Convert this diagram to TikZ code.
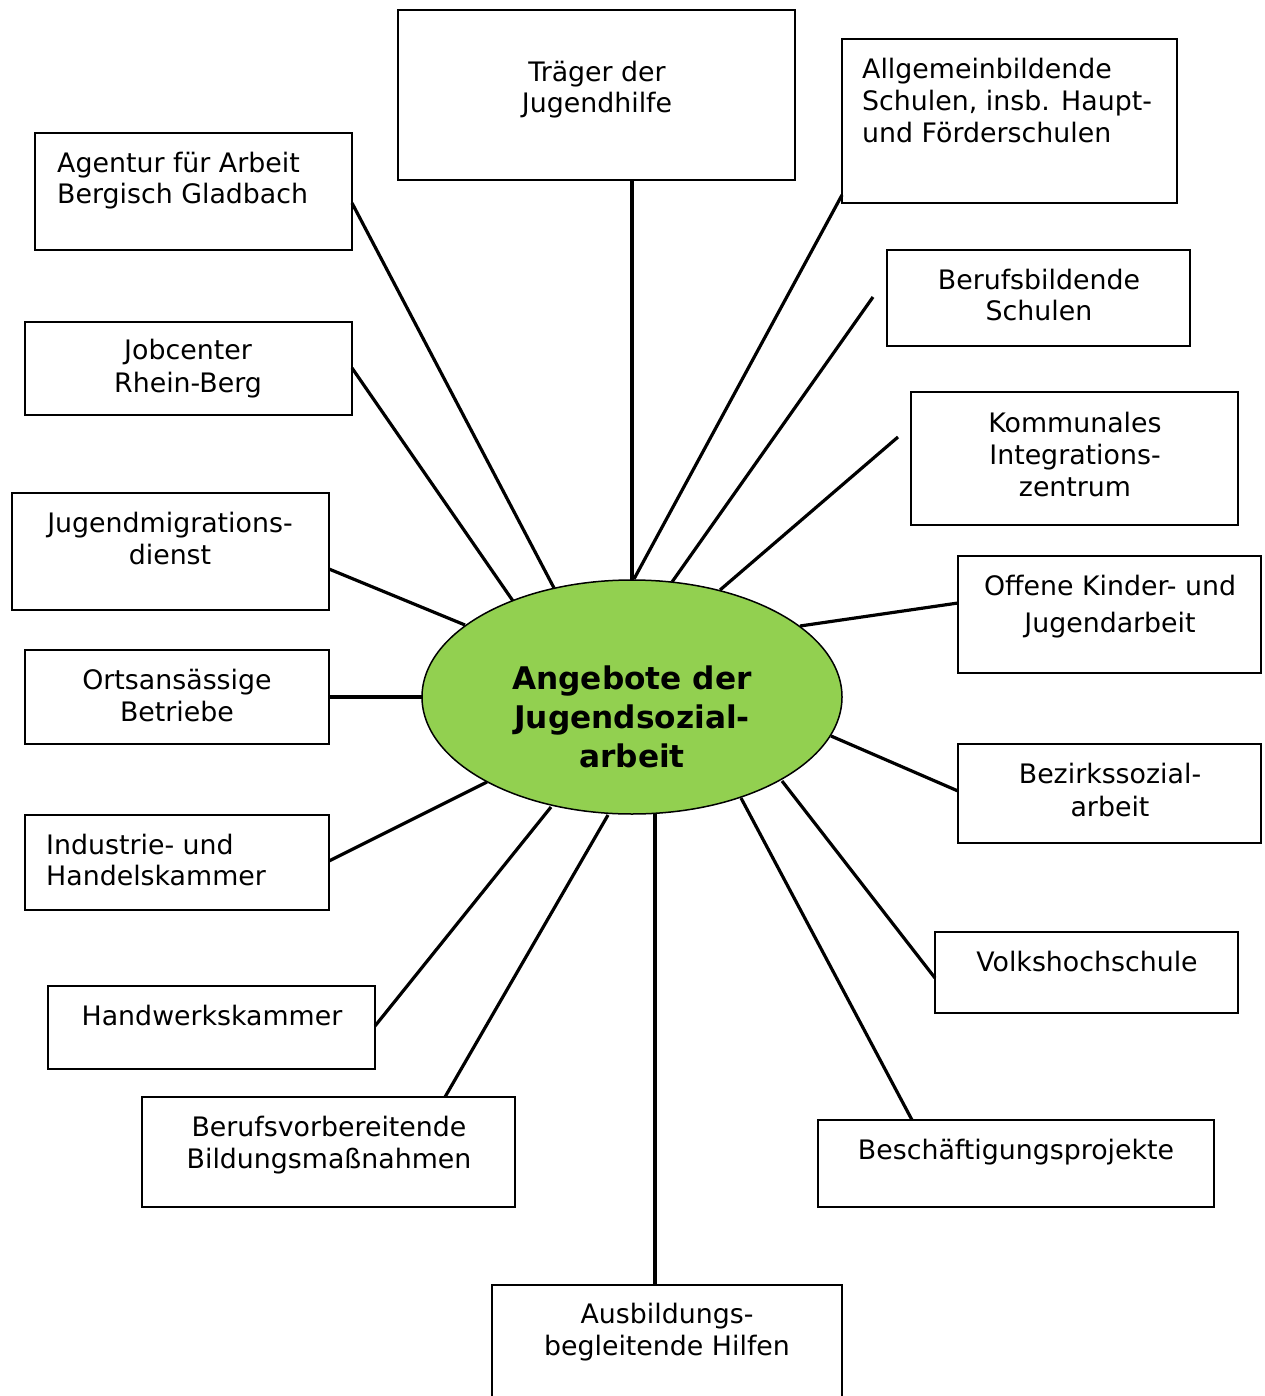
\documentclass[tikz,border=0pt]{standalone}
\usepackage{fontspec}
\setmainfont{DejaVu Sans}
\usetikzlibrary{shapes.geometric}
\definecolor{hubgreen}{RGB}{146,208,80}
\begin{document}
\begin{tikzpicture}[x=1pt,y=-1pt,
  box/.style={draw, line width=2pt, inner sep=0pt, outer sep=0pt, anchor=north west},
  txt/.style={font=\fontsize{26.8}{32}\selectfont, inner sep=0pt, anchor=north, align=center},
  txtl/.style={font=\fontsize{26.8}{31}\selectfont, inner sep=0pt, anchor=north west, align=left},
  conn/.style={line width=3.2pt}]
\useasboundingbox (0,0) rectangle (1264,1396);

% connector end points
\coordinate (p1) at (632,180);  \coordinate (q1) at (632,581);
\coordinate (p2) at (842,195);  \coordinate (q2) at (634,579);
\coordinate (p3) at (352,203);  \coordinate (q3) at (554,588);
\coordinate (p4) at (873,297);  \coordinate (q4) at (672,582);
\coordinate (p5) at (352,368);  \coordinate (q5) at (513,601);
\coordinate (p6) at (898,437);  \coordinate (q6) at (720,590);
\coordinate (p7) at (329,569);  \coordinate (q7) at (465,625);
\coordinate (p8) at (958,603);  \coordinate (q8) at (800,626);
\coordinate (p9) at (329,697);  \coordinate (q9) at (422,697);
\coordinate (p10) at (958,791); \coordinate (q10) at (831,736);
\coordinate (p11) at (329,861); \coordinate (q11) at (487,782);
\coordinate (p12) at (935,978); \coordinate (q12) at (782,781);
\coordinate (p13) at (375,1026);\coordinate (q13) at (551,807);
\coordinate (p14) at (445,1097);\coordinate (q14) at (608,815);
\coordinate (p15) at (912,1120);\coordinate (q15) at (741,798);
\coordinate (p16) at (655,1285);\coordinate (q16) at (655,814);

\foreach \i in {1,...,16} \draw[conn] (p\i) -- (q\i);

% hub
\node[draw, ellipse, fill=hubgreen, line width=1.5pt, minimum width=420pt, minimum height=234pt, inner sep=0pt] (hub) at (632,697) {};
\node[font=\bfseries\fontsize{31.2}{39}\selectfont, inner sep=0pt, anchor=north, align=center] (hubtext) at (632,665.5) {Angebote der\\Jugendsozial-\\arbeit};

% boxes
\node[box, minimum width=397pt, minimum height=170pt] (traeger) at (398,10) {};
\node[box, minimum width=335pt, minimum height=164pt] (allg) at (842,39) {};
\node[box, minimum width=317pt, minimum height=117pt] (agentur) at (35,133) {};
\node[box, minimum width=303pt, minimum height=96pt] (berufsb) at (887,250) {};
\node[box, minimum width=327pt, minimum height=93pt] (jobc) at (25,322) {};
\node[box, minimum width=327pt, minimum height=133pt] (komm) at (911,392) {};
\node[box, minimum width=317pt, minimum height=117pt] (jmd) at (12,493) {};
\node[box, minimum width=303pt, minimum height=117pt] (offene) at (958,556) {};
\node[box, minimum width=304pt, minimum height=94pt] (ort) at (25,650) {};
\node[box, minimum width=303pt, minimum height=99pt] (bezirk) at (958,744) {};
\node[box, minimum width=304pt, minimum height=95pt] (ihk) at (25,815) {};
\node[box, minimum width=303pt, minimum height=81pt] (vhs) at (935,932) {};
\node[box, minimum width=327pt, minimum height=83pt] (hwk) at (48,986) {};
\node[box, minimum width=373pt, minimum height=110pt] (bvb) at (142,1097) {};
\node[box, minimum width=396pt, minimum height=87pt] (besch) at (818,1120) {};
\node[box, minimum width=350pt, minimum height=140pt] (abh) at (492,1285) {};

% texts
\node[txt, font=\fontsize{26.8}{31}\selectfont] (traeger-t) at (597,61) {Träger der\\Jugendhilfe};
\node[txtl, font=\fontsize{26.8}{32}\selectfont] (allg-t) at (862,58) {Allgemeinbildende\\Schulen, insb. Haupt-\\und Förderschulen};
\node[txtl] (agentur-t) at (57,152) {Agentur für Arbeit\\Bergisch Gladbach};
\node[txt, font=\fontsize{26.8}{31}\selectfont] (berufsb-t) at (1039,269) {Berufsbildende\\Schulen};
\node[txt, font=\fontsize{26.8}{33}\selectfont] (jobc-t) at (188,339) {Jobcenter\\Rhein-Berg};
\node[txt] (komm-t) at (1075,412) {Kommunales\\Integrations-\\zentrum};
\node[txt] (jmd-t) at (170,512) {Jugendmigrations-\\dienst};
\node[txt, font=\fontsize{26.8}{37}\selectfont] (offene-t) at (1110,575) {Offene Kinder- und\\Jugendarbeit};
\node[txt] (ort-t) at (177,669) {Ortsansässige\\Betriebe};
\node[txt, font=\fontsize{26.8}{33}\selectfont] (bezirk-t) at (1110,763) {Bezirkssozial-\\arbeit};
\node[txtl] (ihk-t) at (46,834) {Industrie- und\\Handelskammer};
\node[txt] (vhs-t) at (1087,951) {Volkshochschule};
\node[txt] (hwk-t) at (212,1005) {Handwerkskammer};
\node[txt] (bvb-t) at (329,1116) {Berufsvorbereitende\\Bildungsmaßnahmen};
\node[txt] (besch-t) at (1016,1139) {Beschäftigungsprojekte};
\node[txt] (abh-t) at (667,1303) {Ausbildungs-\\begleitende Hilfen};
\end{tikzpicture}
\end{document}
